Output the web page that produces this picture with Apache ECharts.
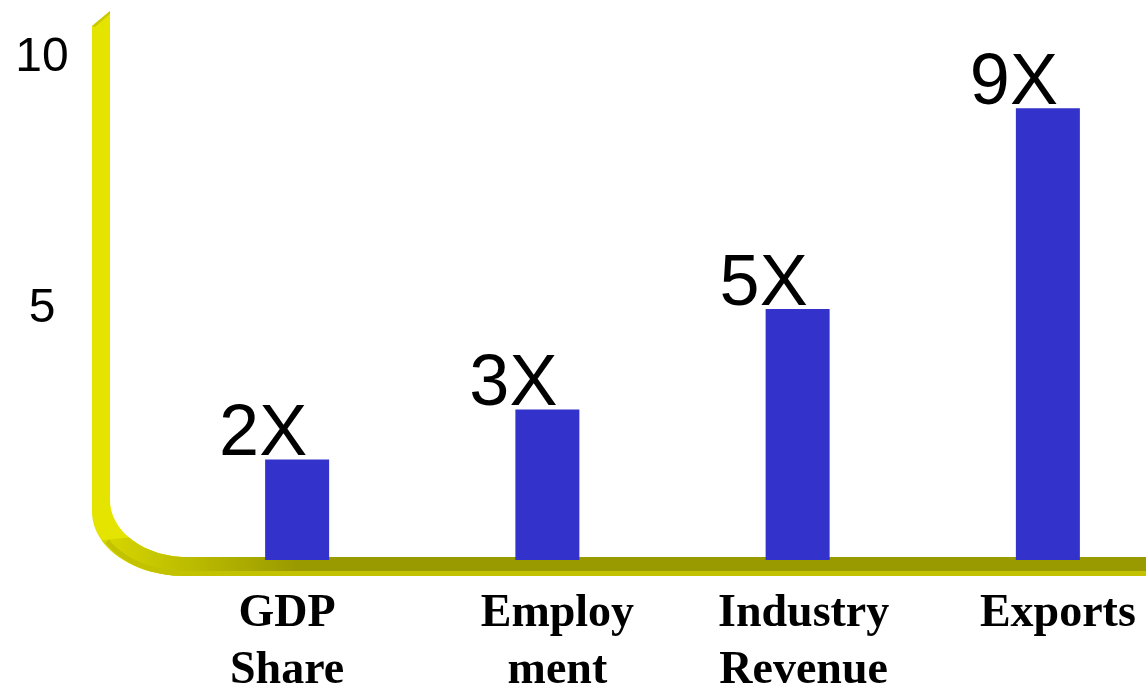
<!DOCTYPE html>
<html>
<head>
<meta charset="utf-8">
<script src="https://cdn.jsdelivr.net/npm/echarts@6/dist/echarts.min.js"></script>
<style>
  html, body { margin: 0; padding: 0; background: #ffffff; }
  #chart { width: 1146px; height: 691px; }
</style>
</head>
<body>
<div id="chart"></div>
<script>
// Growth multiples by indicator
const categories = ['GDP\nShare', 'Employ\nment', 'Industry\nRevenue', 'Exports'];
const multiples = [2, 3, 5, 9];
// horizontal nudges for the category captions (px, + = right)
const captionShift = [-10, 10, 6, 10];

const yMin = 0;
const yMax = 10;
const yStep = 5;

const chart = echarts.init(document.getElementById('chart'));

// Quarter-ellipse points for the rounded corner of the frame
function corner(cx, cy, rx, ry, fromDeg, toDeg, steps) {
  const pts = [];
  for (let k = 0; k <= steps; k++) {
    const a = (fromDeg + (toDeg - fromDeg) * k / steps) * Math.PI / 180;
    pts.push([cx + rx * Math.cos(a), cy + ry * Math.sin(a)]);
  }
  return pts;
}

// inner edge: from the vertical down and round to the horizontal
const innerArc = corner(187, 500, 77, 57, 180, 90, 24);
// outer edge: from the horizontal round back up to the vertical
const outerArc = corner(185, 512, 93, 64, 90, 180, 24);

const framePoints = [[92, 26], [110, 11]]
  .concat(innerArc)
  .concat([[1146, 557], [1146, 576]])
  .concat(outerArc);

// lower, darker face of the frame around the corner and along the bottom
const innerLow = innerArc.filter(p => p[1] >= 535);
const outerLow = outerArc.filter(p => p[1] >= 540);
const shadePoints = innerLow
  .concat([[1146, 557], [1146, 576]])
  .concat(outerLow);

// lighter rim along the underside of the frame
const rimPoints = corner(185, 509, 90, 64.5, 150, 90, 16)
  .concat([[1146, 573.5]]);

const frameGraphics = [
  {
    type: 'polygon',
    z: 0,
    shape: { points: framePoints },
    style: { fill: '#e4e400' }
  },
  {
    type: 'polygon',
    z: 1,
    shape: { points: shadePoints },
    style: {
      fill: {
        type: 'linear', global: true,
        x: 100, y: 0, x2: 300, y2: 0,
        colorStops: [
          { offset: 0, color: '#d8d800' },
          { offset: 1, color: '#999900' }
        ]
      }
    }
  },
  {
    type: 'polyline',
    z: 2,
    shape: { points: rimPoints },
    style: { stroke: '#c2c200', lineWidth: 5 }
  },
  {
    type: 'polygon',
    z: 2,
    shape: { points: [[92, 26], [110, 11], [110, 14], [95, 27]] },
    style: { fill: '#c9c900' }
  }
];

chart.setOption({
  animation: false,
  backgroundColor: '#ffffff',
  graphic: frameGraphics,
  grid: {
    left: 172, top: 58, width: 1001, height: 502,
    containLabel: false,
    outerBoundsMode: 'none'
  },
  xAxis: {
    type: 'category',
    data: categories.map((c, i) => ({
      value: c,
      textStyle: {
        padding: captionShift[i] >= 0 ? [0, 0, 0, 2 * captionShift[i]] : [0, -2 * captionShift[i], 0, 0]
      }
    })),
    axisLine: { show: false },
    axisTick: { show: false },
    axisLabel: {
      interval: 0,
      margin: 26,
      color: '#000000',
      fontFamily: '"Liberation Serif", "DejaVu Serif", serif',
      fontWeight: 'bold',
      fontSize: 46,
      lineHeight: 57
    },
    splitLine: { show: false }
  },
  yAxis: {
    type: 'value',
    min: yMin,
    max: yMax,
    interval: yStep,
    axisLine: { show: false },
    axisTick: { show: false },
    splitLine: { show: false },
    axisLabel: {
      showMinLabel: false,
      align: 'center',
      margin: 130,
      color: '#000000',
      fontFamily: '"Liberation Sans", Arial, sans-serif',
      fontSize: 48
    }
  },
  series: [
    {
      type: 'bar',
      data: multiples,
      barWidth: 64,
      itemStyle: { color: '#3333cc' },
      label: {
        show: true,
        position: 'top',
        distance: -12,
        offset: [-34, 0],
        formatter: (p) => p.value + 'X',
        color: '#000000',
        fontFamily: '"Liberation Sans", Arial, sans-serif',
        fontSize: 72,
        lineHeight: 72
      }
    }
  ]
});
</script>
</body>
</html>
